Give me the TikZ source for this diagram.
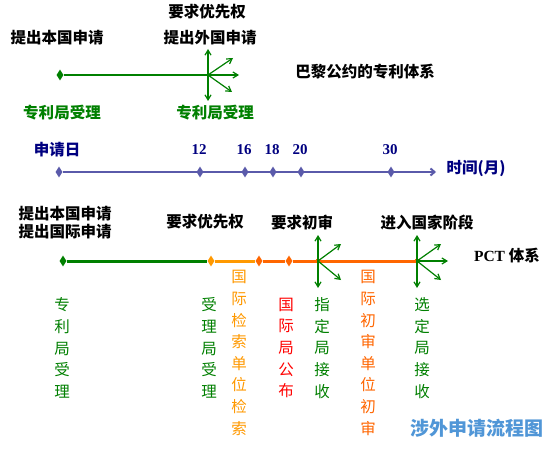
\documentclass[tikz,border=0pt]{standalone}
\usepackage{fontspec}
\setmainfont{Liberation Serif}
\newfontfamily\cjk{Noto Sans CJK SC}
\usetikzlibrary{arrows.meta,shapes.geometric}
\definecolor{pgreen}{RGB}{0,128,0}
\definecolor{lorange}{RGB}{255,153,0}
\definecolor{dorange}{RGB}{255,102,0}
\definecolor{tblue}{RGB}{90,90,170}
\definecolor{navy}{RGB}{0,0,128}
\definecolor{wmblue}{RGB}{80,150,215}

\begin{document}
\begin{tikzpicture}[x=1pt,y=-1pt,
  lbl/.style={font=\cjk\bfseries\fontsize{15.5}{18}\selectfont, inner sep=0pt},
  vlbl/.style={font=\cjk\fontsize{15.5}{21.6}\selectfont, align=center, inner sep=0pt},
  num/.style={font=\bfseries\fontsize{15}{18}\selectfont, inner sep=0pt, navy},
  dmd/.style={diamond, fill, inner sep=0pt, minimum width=7pt, minimum height=11pt},
  arr/.style={-{Straight Barb[length=5pt,width=6pt]}, line width=1.2pt, pgreen}]
  \useasboundingbox[fill=white] (0,0) rectangle (551,449);

  % Paris convention
  \node[lbl] (prio1) at (207,12) {要求优先权};
  \node[lbl] (home1) at (57,38) {提出本国申请};
  \node[lbl] (abroad) at (210,38) {提出外国申请};
  \node[lbl] (paris) at (365,72) {巴黎公约的专利体系};
  \node[dmd, pgreen] (p0) at (60,75) {};
  \coordinate (p1) at (208,75);
  \draw[pgreen, line width=2pt] (p0) -- (p1);
  \coordinate (p1u) at (208,49);
  \coordinate (p1d) at (208,101);
  \coordinate (p1r) at (239,75);
  \coordinate (p1ur) at (233,58);
  \coordinate (p1dr) at (232,92);
  \foreach \e in {p1u,p1d,p1r,p1ur,p1dr}
    \draw[arr] (p1) -- (\e);
  \node[lbl, pgreen] (acc1) at (62,113) {专利局受理};
  \node[lbl, pgreen] (acc2) at (215,113) {专利局受理};

  % time axis
  \node[lbl, navy] (day) at (57,150) {申请日};
  \node[dmd, tblue] (t0) at (59,172) {};
  \coordinate (tend) at (436,172);
  \draw[tblue, line width=2pt, -{Straight Barb[length=4pt,width=7pt]}] (t0) -- (tend);
  \foreach \m/\x in {12/200,16/245,18/273,20/301,30/391}{
    \node[dmd, tblue] (t\m) at (\x,172) {};
    \node[num] (n\m) at (\x-1,150) {\m};
  }
  \node[lbl, navy] (time) at (476,168) {时间(月)};

  % PCT
  \node[lbl, align=center] (home2) at (65,223) {提出本国申请\\提出国际申请};
  \node[lbl] (prio2) at (205,222) {要求优先权};
  \node[lbl] (exam) at (302,223) {要求初审};
  \node[lbl] (nat) at (427,223) {进入国家阶段};
  \node[inner sep=0pt] (pct) at (507,256) {\bfseries\fontsize{15.5}{18}\selectfont PCT {\cjk 体系}};
  \node[dmd, pgreen] (q0) at (63,261) {};
  \node[dmd, lorange] (q1) at (211,261) {};
  \node[dmd, dorange] (q2) at (259,261) {};
  \node[dmd, dorange] (q3) at (289,261) {};
  \coordinate (q4) at (318,261);
  \coordinate (q5) at (417,261);
  \draw[pgreen, line width=3pt] (q0) -- (q1);
  \draw[lorange, line width=3pt] (q1) -- (q2);
  \draw[dorange, line width=3pt] (q2) -- (q3) -- (q4) -- (q5);
  \fill[dorange] (q4) circle (2.5pt) (q5) circle (2.5pt);
  \coordinate (q4u) at (318,235);
  \coordinate (q4d) at (318,288);
  \coordinate (q4ur) at (341,244);
  \coordinate (q4dr) at (341,280);
  \coordinate (q5u) at (417,235);
  \coordinate (q5d) at (417,288);
  \coordinate (q5r) at (448,261);
  \coordinate (q5ur) at (441,244);
  \coordinate (q5dr) at (441,280);
  \foreach \e in {q4u,q4d,q4ur,q4dr}
    \draw[arr] (q4) -- (\e);
  \foreach \e in {q5u,q5d,q5r,q5ur,q5dr}
    \draw[arr] (q5) -- (\e);

  % vertical labels
  \node[vlbl, pgreen] (v1) at (62,348) {专\\利\\局\\受\\理};
  \node[vlbl, pgreen] (v2) at (209,348) {受\\理\\局\\受\\理};
  \node[vlbl, lorange] (v3) at (239,353) {国\\际\\检\\索\\单\\位\\检\\索};
  \node[vlbl, red] (v4) at (286,348) {国\\际\\局\\公\\布};
  \node[vlbl, pgreen] (v5) at (322,348) {指\\定\\局\\接\\收};
  \node[vlbl, dorange] (v6) at (368,353) {国\\际\\初\\审\\单\\位\\初\\审};
  \node[vlbl, pgreen] (v7) at (422,348) {选\\定\\局\\接\\收};

  \node[font=\cjk\bfseries\fontsize{19}{20}\selectfont, wmblue, inner sep=0pt] (wm) at (477,428) {涉外申请流程图};
\end{tikzpicture}
\end{document}
